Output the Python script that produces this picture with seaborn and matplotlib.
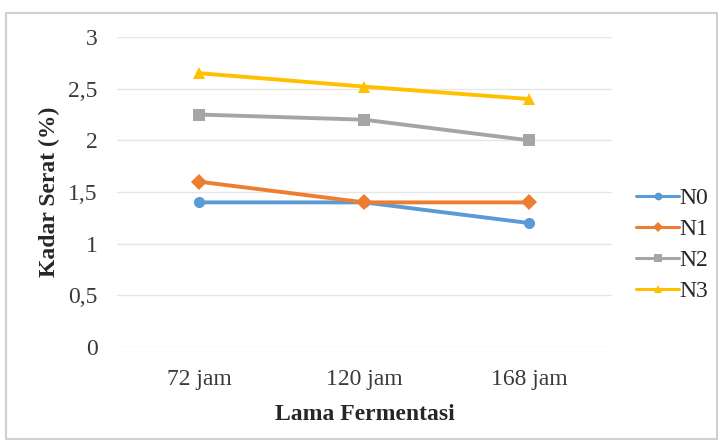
import matplotlib
matplotlib.use("Agg")
import matplotlib.pyplot as plt
import matplotlib.ticker as mticker
import seaborn as sns
import pandas as pd

# data
waktu = ["72 jam", "120 jam", "168 jam"]
n0 = [1.4, 1.4, 1.2]
n1 = [1.6, 1.4, 1.4]
n2 = [2.25, 2.2, 2.0]
n3 = [2.65, 2.52, 2.4]
series = ["N0", "N1", "N2", "N3"]

colors = ["#5B9BD5", "#ED7D31", "#A5A5A5", "#FFC000"]
markers = ["o", "D", "s", "^"]

rows = []
for name, vals in zip(series, [n0, n1, n2, n3]):
    for w, v in zip(waktu, vals):
        rows.append({"Lama Fermentasi": w, "Kadar Serat": v, "Perlakuan": name})
df = pd.DataFrame(rows)

sns.set_style("white")
plt.rcParams["font.family"] = ["Liberation Serif", "DejaVu Serif"]

fig = plt.figure(figsize=(7.18, 4.41), dpi=100)
ax = fig.add_axes([0.163, 0.213, 0.689, 0.703])

sns.lineplot(data=df, x="Lama Fermentasi", y="Kadar Serat", hue="Perlakuan",
             style="Perlakuan", markers=markers, dashes=False,
             palette=colors, linewidth=2.8, markersize=8,
             markeredgewidth=0, sort=False, ax=ax)

ax.set_ylim(0, 3)
ax.set_xlim(-0.5, 2.5)
ax.yaxis.set_major_locator(mticker.MultipleLocator(0.5))
ax.yaxis.set_major_formatter(mticker.FuncFormatter(
    lambda v, p: f"{v:g}".replace(".", ",")))
ax.grid(axis="y", color="#E6E6E6", linewidth=1)
for s in ax.spines.values():
    s.set_visible(False)
ax.tick_params(axis="y", length=0, labelsize=17, colors="#3A3A3A", pad=14)
ax.tick_params(axis="x", length=0, labelsize=17, colors="#3A3A3A", pad=16)

ax.set_xlabel("Lama Fermentasi", fontsize=17, fontweight="bold", labelpad=10)
ax.set_ylabel("Kadar Serat (%)", fontsize=17, fontweight="bold", labelpad=6)

leg = ax.legend(loc="center left", bbox_to_anchor=(1.05, 0.33), frameon=False,
                fontsize=17, handlelength=1.8, labelspacing=0.4,
                handletextpad=0.0, borderpad=0, borderaxespad=0,
                title=None, markerscale=0.7)
for line in leg.get_lines():
    line.set_linewidth(2.2)

# light outer border like the original chart frame
fig.patches.append(plt.Rectangle((0.009, 0.005), 0.99, 0.965, transform=fig.transFigure,
                                 fill=False, edgecolor="#D0D0D0", linewidth=1.5))

fig.savefig("out.png", dpi=100)
